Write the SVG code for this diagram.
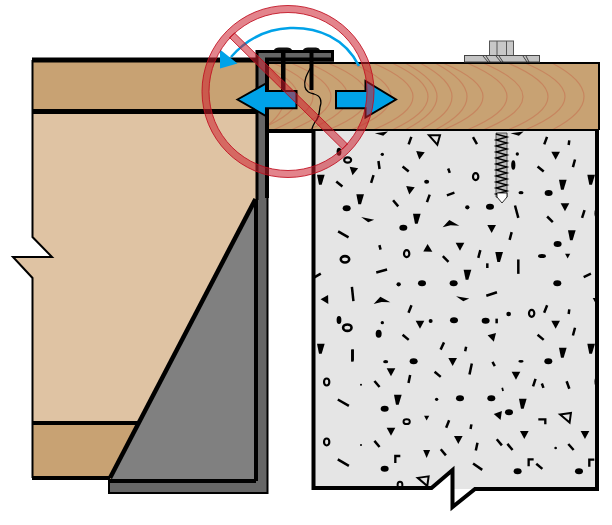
<svg xmlns="http://www.w3.org/2000/svg" width="612" height="525" viewBox="0 0 612 525">
<style>
.k{stroke:#000;stroke-linejoin:miter}
.ring{fill:none;stroke:#c7855f;stroke-width:1.200}
.dash{fill:none;stroke:#000;stroke-width:7.500;stroke-linecap:butt}
.blue{fill:#00a2e8;stroke:#000;stroke-width:2}
.no{fill:#cc1f2e;fill-opacity:.55;stroke:#c00d1e;stroke-opacity:.85;stroke-width:1}
</style>
<defs>
<path id="d" class="dash" d="M0-12V12"/>
<path id="s" class="dash" d="M0-7V7"/>
<ellipse id="e" rx="12" ry="9" fill="#000"/>
<circle id="o" r="5" fill="#000"/>
<ellipse id="r" rx="10.500" ry="8" fill="none" stroke="#000" stroke-width="6.500"/>
<path id="t" d="M-13-10H13L0 14Z" fill="#000"/>
<path id="q" d="M-11-14H12L3 16H-5Z" fill="#000"/>
<path id="h" d="M-18-14H15L7 14Z" fill="none" stroke="#000" stroke-width="6"/>
<path id="b" d="M-24 9L-4-13L26 4L0 3Z" fill="#000"/>
<path id="w" d="M-20-5L20-5L4 6Z" fill="#000"/>
<path id="c" d="M-7 12V-9H8" fill="none" stroke="#000" stroke-width="7"/>
</defs>

<g id="left-timber">
<path d="M32 59H256V479H32V278L13 257H52L32 237Z" fill="#dfc3a3"/>
<path d="M32 60H256V111H32Z" fill="#c8a273"/>
<path d="M32 423H140V479H32Z" fill="#c8a273"/>
<path class="k" fill="none" stroke-width="2" d="M32.500 60V237L52 257H13L32.500 278V478"/>
<path class="k" fill="none" stroke-width="5" d="M32 60H256M32 111.500H256"/>
<path class="k" fill="none" stroke-width="4" d="M32 423H138M32 478H110"/>
</g>

<g id="top-beam">
<rect x="268" y="62" width="331" height="68" fill="#c8a273"/>
<g class="ring">
<path d="M262 63Q308 97 262 130"/><path d="M258 63Q338 97 258 130"/><path d="M273 63Q353 97 273 130"/><path d="M291 63Q371 97 291 130"/><path d="M308 63Q388 97 308 130"/><path d="M328 63Q408 97 328 130"/><path d="M351 63Q431 97 351 130"/><path d="M373 63Q453 97 373 130"/><path d="M392 63Q464 97 392 130"/><path d="M405 63Q469 97 405 130"/><path d="M420 63Q484 97 420 130"/><path d="M435 63Q499 97 435 130"/><path d="M443 63Q523 97 443 130"/><path d="M467 63Q547 97 467 130"/><path d="M483 63Q563 97 483 130"/><path d="M508 63Q588 97 508 130"/><path d="M525 63Q605 97 525 130"/><path d="M552 63Q616 97 552 130"/>
</g>
<path class="k" fill="none" stroke-width="2" d="M268 63H599V130"/>
<path class="k" fill="none" stroke-width="4" d="M266 131H599"/>
</g>

<g id="concrete">
<rect x="312" y="131" width="286" height="358" fill="#e5e5e5"/>
<g id="speckle-upper" transform="translate(300 130) scale(.3333)">
<use href="#w" transform="translate(245 12) rotate(-8)"/><use href="#w" transform="translate(652 12) rotate(-8)"/><use href="#d" transform="translate(330 32) rotate(20)"/><use href="#h" transform="translate(405 30)"/><use href="#d" transform="translate(525 32) rotate(-30)"/><use href="#d" transform="translate(737 32) rotate(20)"/><use href="#s" transform="translate(807 38) rotate(8)"/>
<use href="#e" transform="translate(117 65) rotate(90) scale(1 .8)"/><use href="#r" transform="translate(143 90)"/><use href="#t" transform="translate(160 122) rotate(10)"/><use href="#q" transform="translate(62 148)"/><use href="#d" transform="translate(118 162) rotate(-50)"/><use href="#d" transform="translate(217 147) rotate(18)"/><use href="#o" transform="translate(247 73)"/><use href="#d" transform="translate(237 105) rotate(-8)"/><use href="#t" transform="translate(360 75) rotate(8)"/><use href="#d" transform="translate(317 117) rotate(-50)"/><use href="#s" transform="translate(447 122) rotate(-20)"/><use href="#o" transform="translate(380 155) scale(1.500 1.200)"/><use href="#r" transform="translate(527 140) rotate(90)"/><use href="#t" transform="translate(330 180) rotate(8)"/><use href="#d" transform="translate(385 205) rotate(20)"/><use href="#d" transform="translate(452 192) rotate(70)"/><use href="#d" transform="translate(287 220) rotate(-40)"/><use href="#q" transform="translate(180 207)"/><use href="#e" transform="translate(140 235)"/><use href="#q" transform="translate(350 265)"/><use href="#w" transform="translate(202 270) rotate(12)"/><use href="#e" transform="translate(310 293)"/><use href="#b" transform="translate(452 283)"/><use href="#d" transform="translate(130 313) rotate(-60)scale(1 1.500)"/><use href="#o" transform="translate(502 232) scale(1.300)"/><use href="#e" transform="translate(570 230)"/><use href="#d" transform="translate(650 245) rotate(-15)scale(1 1.600)"/><use href="#t" transform="translate(575 295)"/><use href="#d" transform="translate(632 318) rotate(15)"/><use href="#t" transform="translate(480 348)"/><use href="#d" transform="translate(538 372) rotate(15)"/><use href="#q" transform="translate(597 380)"/><use href="#s" transform="translate(562 407)"/><use href="#d" transform="translate(655 410) scale(1 1.800)"/><use href="#s" transform="translate(240 352) rotate(-15)"/><use href="#r" transform="translate(320 371) rotate(90)"/><use href="#t" transform="translate(385 358) rotate(-60)"/><use href="#d" transform="translate(437 387) rotate(-45)"/><use href="#r" transform="translate(135 388) scale(1.200)"/><use href="#d" transform="translate(245 423) rotate(75)scale(1 1.400)"/><use href="#d" transform="translate(52 437) rotate(60)"/><use href="#q" transform="translate(502 433)"/><use href="#e" transform="translate(366 460)"/><use href="#e" transform="translate(461 460)"/><use href="#o" transform="translate(296 463) scale(1.300)"/><use href="#d" transform="translate(575 492) rotate(72)scale(1 1.400)"/><use href="#w" transform="translate(487 507) rotate(10)"/><use href="#d" transform="translate(158 492) rotate(-6)scale(1 1.800)"/><use href="#t" transform="translate(78 510) rotate(-30)"/><use href="#b" transform="translate(245 513)"/><use href="#d" transform="translate(330 537) rotate(22)"/><use href="#e" transform="translate(117 570) rotate(90)scale(1 .8)"/><use href="#r" transform="translate(142 593) scale(1.200)"/><use href="#o" transform="translate(247 578)"/><use href="#t" transform="translate(360 582)"/><use href="#o" transform="translate(392 573) scale(1.200)"/><use href="#e" transform="translate(462 571)"/><use href="#e" transform="translate(557 572)"/><use href="#s" transform="translate(590 573)"/><use href="#o" transform="translate(626 552) scale(1.400)"/><use href="#r" transform="translate(695 550) rotate(90)"/><use href="#d" transform="translate(737 537) rotate(22)"/><use href="#s" transform="translate(807 545) rotate(8)"/><use href="#t" transform="translate(767 582)"/><use href="#d" transform="translate(822 605) rotate(15)"/><use href="#d" transform="translate(722 622) rotate(-50)"/><use href="#t" transform="translate(578 622) rotate(-15)"/><use href="#d" transform="translate(427 648) rotate(25)"/><use href="#s" transform="translate(497 657) rotate(12)"/><use href="#e" transform="translate(236 611) rotate(90)"/><use href="#d" transform="translate(317 622) rotate(-50)"/><use href="#q" transform="translate(62 655)"/><use href="#q" transform="translate(873 655)"/><use href="#d" transform="translate(158 675) scale(1 1.400)"/><use href="#q" transform="translate(788 667)"/>
<use href="#o" transform="translate(652 72)"/><use href="#e" transform="translate(640 105) rotate(90)scale(1.200 .7)"/><use href="#t" transform="translate(767 75)"/><use href="#d" transform="translate(722 117) rotate(-50)"/><use href="#d" transform="translate(822 100) rotate(15)"/><use href="#q" transform="translate(788 163)"/><use href="#q" transform="translate(873 148)"/><use href="#e" transform="translate(746 189)"/><use href="#o" transform="translate(663 188) scale(1.500 1)"/><use href="#t" transform="translate(795 230)"/><use href="#d" transform="translate(850 252) rotate(18)"/><use href="#d" transform="translate(750 268) rotate(-45)"/><use href="#e" transform="translate(888 250) rotate(90)scale(1 .5)"/><use href="#q" transform="translate(815 315)"/><use href="#e" transform="translate(773 342)"/><use href="#e" transform="translate(726 378) scale(1 .7)"/><use href="#t" transform="translate(803 377) scale(.6)"/><use href="#d" transform="translate(862 436) rotate(65)"/><use href="#e" transform="translate(772 460)"/><use href="#t" transform="translate(886 510) scale(.6)"/>
</g>
<g id="speckle-lower" transform="translate(300 350) scale(.3333)">
<use href="#d" transform="translate(157 17) scale(1 1.500)"/><use href="#o" transform="translate(257 35) scale(1.500 1)"/><use href="#e" transform="translate(341 34)"/><use href="#t" transform="translate(458 34)"/><use href="#d" transform="translate(512 57) rotate(12)scale(1 1.400)"/><use href="#s" transform="translate(581 42) rotate(-30)"/><use href="#o" transform="translate(663 34) scale(1.600 .8)"/><use href="#e" transform="translate(745 34)"/><use href="#t" transform="translate(273 65)"/><use href="#d" transform="translate(328 87) rotate(12)"/><use href="#d" transform="translate(413 73) rotate(-50)"/><use href="#t" transform="translate(648 75)"/><use href="#d" transform="translate(703 98) rotate(18)"/><use href="#s" transform="translate(728 107) rotate(-20)"/><use href="#d" transform="translate(804 105) rotate(-20)"/><use href="#e" transform="translate(888 95) rotate(90)scale(1 .5)"/><use href="#r" transform="translate(80 96) rotate(90)"/><use href="#d" transform="translate(231 102) rotate(-40)"/><use href="#o" transform="translate(183 104) scale(.6)"/><use href="#s" transform="translate(608 118) rotate(-15)scale(.7)"/><use href="#d" transform="translate(130 158) rotate(-60)scale(1 1.600)"/><use href="#q" transform="translate(293 148)"/><use href="#o" transform="translate(410 148)"/><use href="#e" transform="translate(480 145)"/><use href="#e" transform="translate(574 145)"/><use href="#q" transform="translate(668 160)"/><use href="#e" transform="translate(254 176)"/><use href="#e" transform="translate(627 187)"/><use href="#t" transform="translate(597 197) rotate(-20)"/><use href="#r" transform="translate(320 215) scale(.9)"/><use href="#t" transform="translate(380 203) scale(.6)"/><use href="#d" transform="translate(443 222) rotate(22)"/><use href="#s" transform="translate(513 230) rotate(10)"/><use href="#c" transform="translate(727 215) rotate(90)"/><use href="#h" transform="translate(800 205) rotate(-8)"/><use href="#t" transform="translate(273 243)"/><use href="#r" transform="translate(80 276) rotate(90)"/><use href="#d" transform="translate(231 282) rotate(-40)"/><use href="#o" transform="translate(183 285) scale(.6)"/><use href="#t" transform="translate(475 268)"/><use href="#d" transform="translate(530 290) rotate(12)"/><use href="#d" transform="translate(598 277) rotate(-40)"/><use href="#d" transform="translate(630 291) rotate(-40)"/><use href="#t" transform="translate(673 253)"/><use href="#t" transform="translate(855 253)"/><use href="#o" transform="translate(767 294) scale(.8)"/><use href="#d" transform="translate(813 291) rotate(-42)"/><use href="#t" transform="translate(380 310) rotate(0)scale(.8 1)"/><use href="#d" transform="translate(430 307) rotate(-40)"/><use href="#c" transform="translate(293 327)"/><use href="#d" transform="translate(130 338) rotate(-60)scale(1 1.600)"/><use href="#e" transform="translate(254 356)"/><use href="#d" transform="translate(533 350) rotate(-55)scale(1 1.400)"/><use href="#e" transform="translate(653 364)"/><use href="#c" transform="translate(693 337)"/><use href="#d" transform="translate(718 349) rotate(-50)"/><use href="#c" transform="translate(875 338)"/><use href="#e" transform="translate(837 364)"/><use href="#r" transform="translate(300 405) rotate(90)scale(.9)"/><use href="#h" transform="translate(373 395) rotate(-8)"/>
</g>
<path d="M395 490H510V489H475L452 509V469L431 489H395Z" fill="#fff"/>
<path class="k" fill="none" stroke-width="4" d="M313.500 131V488H431.500L452.500 470V507L475 489H599"/>
<path class="k" fill="none" stroke-width="4" d="M597 131V489"/>
<g id="screw" fill="none" stroke="#000">
<path fill="#bdbdbd" stroke="#333" stroke-width=".8" d="M496 133H507V197L502 199L496 197Z"/>
<path stroke-width="1.300" d="M496 134L507 137L496 140L507 143L496 146L507 149L496 152L507 155L496 158L507 161L496 164L507 167L496 170L507 173L496 176L507 179L496 182L507 185L496 188L507 191L496 194L507 197"/>
<path fill="#fff" stroke-width=".8" d="M497 193H507V197L502 203L497 197Z"/>
</g>
</g>

<g id="bolt-head" stroke="#555">
<rect x="489.500" y="41" width="24" height="14.500" fill="#c8c8c8"/>
<path fill="none" d="M497 41V55M506.500 41V55"/>
<rect x="464.500" y="55.500" width="75" height="6.500" fill="#c4c4c4" stroke="#444"/>
<path fill="none" stroke="#222" stroke-width=".8" d="M483 56L488 62M486 56L490 62M496 56L501 62M499 56L503 62M523 56L527 62M526 56L529 62"/>
</g>

<g id="gusset">
<path d="M256 200V480H110Z" fill="#808080"/>
<path class="k" fill="none" stroke-width="4.500" d="M255.500 199L110 478"/>
</g>

<g id="steel-angle">
<path d="M256 50.500H334V62H268V494H108V479H256Z" fill="#666"/>
<path class="k" fill="none" stroke-width="3" d="M257 200V51.500H332.500V61"/>
<path class="k" fill="none" stroke-width="4" d="M334 59.500H267V198"/>
<path class="k" fill="none" stroke-width="2" d="M267.500 198V493H109V478"/>
<path class="k" fill="none" stroke-width="4" d="M110 481H256M256 200V481"/>
<path d="M274 50Q275 47.500 279 47.500H287Q291 47.500 292 50ZM303 50Q304 47.500 308 47.500H316Q319 47.500 320 50Z" fill="#111"/>
<path d="M281 50H285.500V90H281ZM309.500 50H313.500V90H309.500Z" fill="#000"/>
<path d="M313.500 62C310 70 303 78 305 87C306 92 310 93 314 94C321 96 322 101 320 107C319 114 319 118 315 122C313 125 312 128 311 132" fill="none" stroke="#000" stroke-width="1.300"/>
</g>

<g id="connectors">
<path class="blue" d="M237.500 99.500L266 83.500V91H296.500V108.300H266V116Z"/>
<path class="blue" d="M336 91H365.500V81L396 99.500L365.500 117.500V108.300H336Z"/>
<path d="M359 66C345 38 318 27 290 28C265 29 245 41 231 57" fill="none" stroke="#00a2e8" stroke-width="2.500"/>
<path d="M220 49.500L237.500 63.500L220 68.500Z" fill="#00a2e8"/>
</g>

<g id="prohibition">
<path class="no" fill-rule="evenodd" d="M202 91.500A86 86 0 1 1 374 91.500A86 86 0 1 1 202 91.500ZM209 91.500A79 79 0 1 0 367 91.500A79 79 0 1 0 209 91.500Z"/>
<path class="no" d="M229.500 37.500L234.500 33L347.500 144L342.500 149Z"/>
</g>
</svg>
